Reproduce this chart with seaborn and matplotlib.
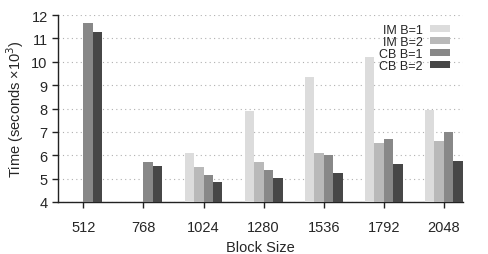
import numpy as np
import pandas as pd
import seaborn as sns
import matplotlib.pyplot as plt
from matplotlib.patches import Patch

# values (seconds x10^3), NaN = no bar
block_sizes = ['512', '768', '1024', '1280', '1536', '1792', '2048']
series = ['IM B=1', 'IM B=2', 'CB B=1', 'CB B=2']
im_b1 = [np.nan, np.nan, 6.09, 7.88, 9.36, 10.22, 7.92]
im_b2 = [np.nan, np.nan, 5.49, 5.73, 6.10, 6.54, 6.60]
cb_b1 = [11.67, 5.70, 5.15, 5.39, 6.00, 6.68, 7.01]
cb_b2 = [11.26, 5.56, 4.87, 5.01, 5.25, 5.63, 5.75]
colors = ['#dcdcdc', '#b9b9b9', '#888888', '#474747']

rows = []
for name, vals in zip(series, [im_b1, im_b2, cb_b1, cb_b2]):
    for b, v in zip(block_sizes, vals):
        rows.append({'block': b, 'series': name, 'time': v})
df = pd.DataFrame(rows)

sns.set_style('ticks')
plt.rcParams['font.family'] = ['Liberation Sans', 'DejaVu Sans']

fig = plt.figure(figsize=(4.88, 2.55), dpi=100)
ax = fig.add_axes([0.119, 0.204, 0.830, 0.733])

sns.barplot(data=df, x='block', y='time', hue='series', order=block_sizes,
            hue_order=series, palette=colors, width=0.63, saturation=1,
            linewidth=0, ax=ax, zorder=3)

ax.set_ylim(4, 12)
ax.set_yticks(range(4, 13))
ax.set_xlim(-0.42, 6.32)
ax.yaxis.grid(True, linestyle=(0, (1, 3)), color='#b0b0b0', linewidth=0.8, zorder=0)
ax.set_axisbelow(True)
sns.despine(ax=ax)
for side in ['left', 'bottom']:
    ax.spines[side].set_linewidth(1.0)
    ax.spines[side].set_color('#222222')
ax.tick_params(axis='both', which='major', left=True, bottom=True,
               direction='out', labelsize=10.5, length=4, width=1.0,
               color='#222222')
ax.tick_params(axis='x', pad=9)
ax.set_xlabel('Block Size', fontsize=10.5, labelpad=4)
ax.set_ylabel('Time (seconds \u00d710$^3$)', fontsize=10.5, labelpad=4)

ax.get_legend().remove()
handles = [Patch(facecolor=c, edgecolor='none') for c in colors]
ax.legend(handles, series, loc='upper right', bbox_to_anchor=(0.99, 1.0),
          frameon=False, markerfirst=False, fontsize=9, handlelength=1.6,
          handleheight=0.5, handletextpad=0.6, labelspacing=0.0,
          borderpad=0.2)

fig.savefig('out.png', dpi=100)
